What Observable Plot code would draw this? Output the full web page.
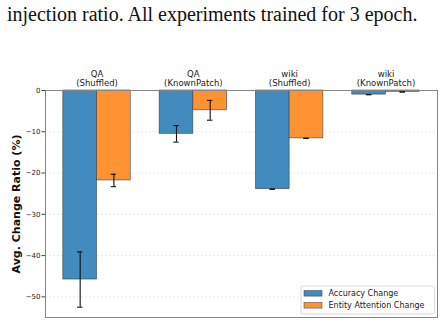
<!DOCTYPE html>
<html>
<head>
<meta charset="utf-8">
<script src="https://cdn.jsdelivr.net/npm/d3@7"></script>
<script src="https://cdn.jsdelivr.net/npm/@observablehq/plot@0.6"></script>
<style>
  html, body { margin: 0; padding: 0; background: #fff; }
  #caption {
    font-family: "Liberation Serif", "Times New Roman", Times, "DejaVu Serif", serif;
    font-size: 20px;
    line-height: 28px;
    height: 30px;
    padding-left: 7px;
    color: #111;
    white-space: nowrap;
  }
  #chart svg { display: block; }
</style>
</head>
<body>
<div id="caption">injection ratio. All experiments trained for 3 epoch.</div>
<div id="chart"></div>
<script>
// Dataset / variant groups along the top axis
const groups = ["QA\n(Shuffled)", "QA\n(KnownPatch)", "wiki\n(Shuffled)", "wiki\n(KnownPatch)"];
// The two measured quantities
const series = ["Accuracy Change", "Entity Attention Change"];
const colors = ["#418bbf", "#ff9232"];
// Mean change (%) and its standard deviation per group
const accuracy = [-45.8, -10.5, -23.9, -1.0];
const accuracyErr = [6.7, 2.0, 0, 0];
const attention = [-21.8, -4.8, -11.6, -0.35];
const attentionErr = [1.5, 2.4, 0, 0];
// Y axis ticks
const yTicks = [0, -10, -20, -30, -40, -50];
const yLabel = "Avg. Change Ratio (%)";

const barWidth = 0.35;
const means = [accuracy, attention];
const errs = [accuracyErr, attentionErr];

const rows = [];
groups.forEach((g, i) => {
  series.forEach((s, k) => {
    const x1 = i + (k - 1) * barWidth;
    rows.push({
      group: g, series: s,
      x1, x2: x1 + barWidth, xc: x1 + barWidth / 2,
      value: means[k][i], err: errs[k][i]
    });
  });
});

// Legend box in the lower-right corner of the frame
function legend(index, scales, values, dims) {
  const g = d3.create("svg:g")
    .attr("font-family", "DejaVu Sans")
    .attr("font-size", 8)
    .attr("text-anchor", "start");
  const right = dims.width - dims.marginRight - 2.5;
  const bottom = dims.height - dims.marginBottom - 3;
  const w = 133.5, h = 28;
  g.append("rect")
    .attr("x", right - w).attr("y", bottom - h)
    .attr("width", w).attr("height", h).attr("rx", 2)
    .attr("fill", "#fff").attr("fill-opacity", 0.85)
    .attr("stroke", "#d0d0d0").attr("stroke-width", 0.8);
  series.forEach((s, k) => {
    const cy = bottom - h + 7.3 + k * 12;
    g.append("rect")
      .attr("x", right - w + 3).attr("y", cy - 2.8)
      .attr("width", 18).attr("height", 5.6)
      .attr("fill", colors[k]).attr("stroke", "#333").attr("stroke-opacity", 0.8).attr("stroke-width", 0.6);
    g.append("text")
      .attr("x", right - w + 27.5).attr("y", cy).attr("dy", "0.35em")
      .attr("text-anchor", "start")
      .attr("fill", "#222").text(s);
  });
  return g.node();
}

const chart = Plot.plot({
  width: 445,
  height: 295,
  marginTop: 60,
  marginLeft: 45,
  marginRight: 8,
  marginBottom: 8,
  style: { fontFamily: "DejaVu Sans", background: "#fff", color: "#222" },
  x: { domain: [-0.535, 3.535], axis: null },
  y: { domain: [-55, 0], axis: null },
  color: { domain: series, range: colors },
  marks: [
    Plot.gridY(yTicks, { stroke: "#000", strokeOpacity: 0.13, strokeDasharray: "2,2", strokeWidth: 0.7 }),
    Plot.rect(rows, {
      x1: "x1", x2: "x2", y1: () => 0, y2: "value",
      fill: "series", stroke: "#333", strokeOpacity: 0.75, strokeWidth: 0.7
    }),
    // error bars
    Plot.ruleX(rows, { x: "xc", y1: d => d.value - d.err, y2: d => d.value + d.err, stroke: "#111", strokeWidth: 1.1 }),
    Plot.ruleY(rows, { y: d => d.value - d.err, x1: "xc", x2: "xc", insetLeft: -2.7, insetRight: -2.7, stroke: "#111", strokeWidth: 1.1 }),
    Plot.ruleY(rows, { y: d => d.value + d.err, x1: "xc", x2: "xc", insetLeft: -2.7, insetRight: -2.7, stroke: "#111", strokeWidth: 1.1 }),
    Plot.frame({ stroke: "#858585", strokeWidth: 1 }),
    Plot.axisY(yTicks, { tickSize: 3.5, tickPadding: 1.5, fontSize: 7, label: null, stroke: "#444" }),
    Plot.axisX([0, 1, 2, 3], {
      anchor: "top", tickSize: 0, tickPadding: 5, fontSize: 8.5, lineHeight: 1.05,
      tickFormat: i => groups[i], label: null
    }),
    Plot.text([yLabel], {
      frameAnchor: "left", textAnchor: "middle", dx: -29, rotate: -90,
      fontSize: 11, fontWeight: "bold", fill: "#111"
    }),
    legend
  ]
});

document.getElementById("chart").append(chart);
</script>
</body>
</html>
